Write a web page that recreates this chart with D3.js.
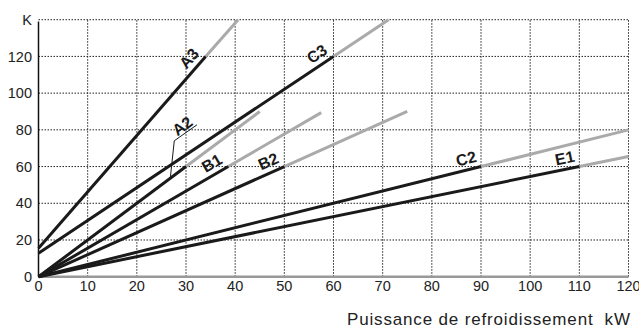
<!DOCTYPE html>
<html>
<head>
<meta charset="utf-8">
<script src="https://cdn.jsdelivr.net/npm/d3@7"></script>
<style>
  html, body { margin: 0; padding: 0; background: #fff; }
  svg { display: block; }
  text { font-family: "Liberation Sans", Arial, sans-serif; }
</style>
</head>
<body>
<svg id="chart" width="639" height="333"></svg>
<script>
// ---- data ----
const curveNames = ["A3", "C3", "A2", "B1", "B2", "C2", "E1"];
const startK     = [15.5, 12.8, 0, 0, 0, 0, 0];          // K at 0 kW
const ratedKW    = [34, 60, 30, 38.6, 50, 90, 110];      // end of black part (kW)
const ratedK     = [120, 120, 60, 60, 60, 60, 60];       // end of black part (K)
const extKW      = [40.6, 71.2, 45, 57.5, 75, 120, 120]; // end of grey part (kW)
const extK       = [140, 140, 90, 89.4, 90, 80, 65.5];   // end of grey part (K)
const xTicks = [0, 10, 20, 30, 40, 50, 60, 70, 80, 90, 100, 110, 120];
const yTicks = [0, 20, 40, 60, 80, 100, 120, 140];
const yTickLabels = ["0", "20", "40", "60", "80", "100", "120", "K"];
const xTitle = "Puissance de refroidissement  kW";

// ---- scales ----
const svg = d3.select("#chart");
const x = d3.scaleLinear().domain([0, 120]).range([38.5, 628.5]);
const y = d3.scaleLinear().domain([0, 140]).range([276.7, 19.7]);

// grid
const grid = svg.append("g");
grid.selectAll("line.v").data(xTicks.filter(d => d > 0)).join("line")
  .attr("x1", d => x(d)).attr("x2", d => x(d))
  .attr("y1", y(0)).attr("y2", y(140))
  .attr("stroke", "#222").attr("stroke-width", 1).attr("stroke-dasharray", "1.5,1.5");
grid.selectAll("line.h").data(yTicks.filter(d => d > 0)).join("line")
  .attr("x1", x(0)).attr("x2", x(120))
  .attr("y1", d => y(d)).attr("y2", d => y(d))
  .attr("stroke", "#222").attr("stroke-width", 1).attr("stroke-dasharray", "1.5,1.5");

// axes lines
svg.append("line").attr("x1", x(0)).attr("x2", x(120)).attr("y1", y(0)).attr("y2", y(0))
  .attr("stroke", "#999").attr("stroke-width", 2.5);
svg.append("line").attr("x1", x(0)).attr("x2", x(0)).attr("y1", y(0)).attr("y2", y(139))
  .attr("stroke", "#111").attr("stroke-width", 1.5);

// tick labels
svg.append("g").selectAll("text").data(yTicks).join("text")
  .attr("x", 32).attr("y", d => y(d)).attr("dy", "0.36em")
  .attr("text-anchor", "end").attr("font-size", 14.5).attr("fill", "#222")
  .text((d, i) => yTickLabels[i]);
svg.append("g").selectAll("text").data(xTicks).join("text")
  .attr("x", d => x(d)).attr("y", y(0) + 14)
  .attr("text-anchor", "middle").attr("font-size", 14.5).attr("fill", "#222")
  .text(d => d);
svg.append("text").attr("x", 630).attr("y", 325)
  .attr("text-anchor", "end").attr("font-size", 17).attr("fill", "#222")
  .attr("textLength", 283).attr("lengthAdjust", "spacing")
  .attr("xml:space", "preserve").style("white-space", "pre")
  .text(xTitle);

// curves
const curves = curveNames.map((n, i) => ({
  name: n,
  black: [[0, startK[i]], [ratedKW[i], ratedK[i]]],
  grey: [[ratedKW[i], ratedK[i]], [extKW[i], extK[i]]]
}));
const line = d3.line().x(d => x(d[0])).y(d => y(d[1]));
const g = svg.append("g");
g.selectAll("path.grey").data(curves).join("path")
  .attr("d", d => line(d.grey)).attr("fill", "none")
  .attr("stroke", "#aaa").attr("stroke-width", 3);
g.selectAll("path.black").data(curves).join("path")
  .attr("d", d => line(d.black)).attr("fill", "none")
  .attr("stroke", "#1a1a1a").attr("stroke-width", 3);

// labels along the lines (just before the end of the black part, above the line)
const back = 12.5, perp = 11.5;
curves.forEach(c => {
  if (c.name === "A2") return;
  const p0 = [x(c.black[0][0]), y(c.black[0][1])];
  const p1 = [x(c.black[1][0]), y(c.black[1][1])];
  const dx = p1[0] - p0[0], dy = p1[1] - p0[1];
  const L = Math.hypot(dx, dy);
  const ux = dx / L, uy = dy / L;
  const ang = Math.atan2(dy, dx) * 180 / Math.PI;
  const cx = p1[0] - ux * back + uy * perp;
  const cy = p1[1] - uy * back - ux * perp;
  svg.append("text").attr("transform", `translate(${cx},${cy}) rotate(${ang})`)
    .attr("text-anchor", "middle").attr("dy", "0.36em")
    .attr("font-size", 16).attr("font-weight", "bold").attr("fill", "#1a1a1a")
    .text(c.name);
});

// A2 callout with leader
(function () {
  const c = curves[curveNames.indexOf("A2")];
  const slope = (c.black[1][1] - c.black[0][1]) / (c.black[1][0] - c.black[0][0]);
  const ax = 26.8, ay = c.black[0][1] + slope * ax;
  const p = [x(ax), y(ay)];
  const ang = Math.atan2(y(slope) - y(0), x(1) - x(0)) * 180 / Math.PI;
  const k = [p[0] + 4, p[1] - 37.5];
  const e = [k[0] + 22.7, k[1] - 16];
  svg.append("path").attr("d", d3.line()([p, k, e])).attr("fill", "none")
    .attr("stroke", "#1a1a1a").attr("stroke-width", 1);
  const cx = (k[0] + e[0]) / 2 - 3.5, cy = (k[1] + e[1]) / 2 - 7;
  svg.append("text").attr("transform", `translate(${cx},${cy}) rotate(${ang})`)
    .attr("text-anchor", "middle").attr("dy", "0.36em")
    .attr("font-size", 16).attr("font-weight", "bold").attr("fill", "#1a1a1a")
    .text("A2");
})();
</script>
</body>
</html>
